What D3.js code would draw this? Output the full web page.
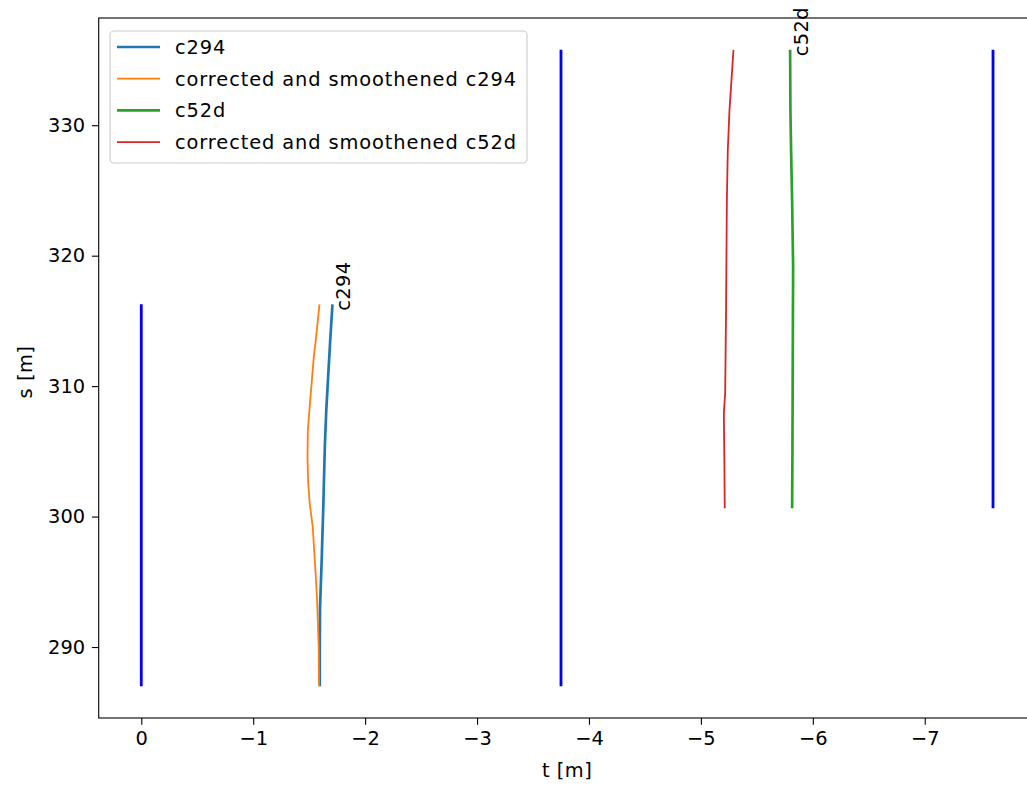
<!DOCTYPE html>
<html>
<head>
<meta charset="utf-8">
<script src="https://cdn.jsdelivr.net/npm/d3@7"></script>
<style>
  html, body { margin: 0; padding: 0; background: #fff; overflow: hidden; }
  svg { display: block; font-family: "DejaVu Sans", sans-serif; }
</style>
</head>
<body>
<svg id="chart" width="1027" height="787"></svg>
<script>
// ---- data ----
const c294S = [287.0, 290.0, 293.0, 296.7, 301.0, 305.4, 308.0, 310.5, 313.5, 316.27];
const c294T = [-1.595, -1.595, -1.597, -1.612, -1.627, -1.640, -1.652, -1.668, -1.688, -1.708];

const c294CorrS = [287.0, 290.0, 293.6, 296.0, 299.2, 301.0, 302.6, 304.5, 306.6, 309.0, 312.2, 314.0, 316.27];
const c294CorrT = [-1.588, -1.585, -1.571, -1.555, -1.532, -1.505, -1.491, -1.485, -1.488, -1.510, -1.541, -1.565, -1.592];

const c52dS = [300.64, 305.0, 310.2, 315.0, 319.1, 324.2, 328.0, 331.1, 335.78];
const c52dT = [-5.815, -5.818, -5.820, -5.822, -5.824, -5.815, -5.806, -5.800, -5.797];

const c52dCorrS = [300.64, 304.0, 307.9, 309.5, 316.0, 324.2, 328.0, 331.1, 335.78];
const c52dCorrT = [-5.213, -5.210, -5.205, -5.217, -5.225, -5.232, -5.240, -5.255, -5.291];

// vertical guide lines (blue)
const guideT = [0, -3.75, -7.61];
const guideS0 = [287.0, 287.0, 300.64];
const guideS1 = [316.27, 335.78, 335.78];

const xTicks = [0, -1, -2, -3, -4, -5, -6, -7];
const yTicks = [290, 300, 310, 320, 330];

const seriesNames = ["c294", "corrected and smoothened c294", "c52d", "corrected and smoothened c52d"];
const seriesColors = ["#1f77b4", "#ff7f0e", "#2ca02c", "#d62728"];
const seriesWidths = [2.7, 1.8, 2.7, 1.8];
const endLabels = ["c294", "c52d"];

// ---- layout ----
const mLeft = 98.7, mRight = 1035.6, mTop = 18, mBottom = 718;
const FS = 19.4;

const x = d3.scaleLinear().domain([0.3805, -7.9905]).range([mLeft, mRight]);
const y = d3.scaleLinear().domain([284.56, 338.22]).range([mBottom, mTop]);

const svg = d3.select("#chart");

const toPts = (S, T) => S.map((s, i) => [T[i], s]);
const line = d3.line().x(d => x(d[0])).y(d => y(d[1]));

// clip
svg.append("defs").append("clipPath").attr("id", "clip")
  .append("rect").attr("x", mLeft).attr("y", mTop).attr("width", mRight - mLeft).attr("height", mBottom - mTop);

const plot = svg.append("g").attr("clip-path", "url(#clip)");

// guide lines
guideT.forEach((t, i) => {
  plot.append("path")
    .attr("d", line([[t, guideS0[i]], [t, guideS1[i]]]))
    .attr("fill", "none").attr("stroke", "#0000ff").attr("stroke-width", 2.8);
});

const allSeries = [toPts(c294S, c294T), toPts(c294CorrS, c294CorrT), toPts(c52dS, c52dT), toPts(c52dCorrS, c52dCorrT)];
allSeries.forEach((pts, i) => {
  plot.append("path")
    .attr("d", line(pts))
    .attr("fill", "none")
    .attr("stroke", seriesColors[i])
    .attr("stroke-width", seriesWidths[i])
    .attr("stroke-linejoin", "round")
    .attr("stroke-linecap", "butt");
});

// end labels (rotated)
[allSeries[0], allSeries[2]].forEach((pts, i) => {
  const e = pts[pts.length - 1];
  const px = x(e[0]) + 17.5, py = y(e[1]) + 6.5;
  svg.append("text")
    .attr("transform", `translate(${px},${py}) rotate(-90)`)
    .attr("font-size", FS)
    .attr("letter-spacing", 0.4)
    .attr("fill", "#000")
    .text(endLabels[i]);
});

// axes
const xAxis = d3.axisBottom(x).tickValues(xTicks).tickSize(6.8).tickPadding(6.8)
  .tickFormat(d => d === 0 ? "0" : "\u2212" + Math.abs(d));
const gx = svg.append("g").attr("transform", `translate(0,${mBottom})`).call(xAxis);
const yAxis = d3.axisLeft(y).tickValues(yTicks).tickSize(6.8).tickPadding(6.8).tickFormat(d3.format("d"));
const gy = svg.append("g").attr("transform", `translate(${mLeft},0)`).call(yAxis);
[gx, gy].forEach(g => {
  g.select(".domain").remove();
  g.selectAll(".tick line").attr("stroke", "#000").attr("stroke-width", 1.1);
  g.selectAll(".tick text").attr("font-size", FS).attr("fill", "#000").attr("font-family", "DejaVu Sans");
});

// spines
svg.append("rect").attr("x", mLeft).attr("y", mTop).attr("width", mRight - mLeft).attr("height", mBottom - mTop)
  .attr("fill", "none").attr("stroke", "#000").attr("stroke-width", 1.1);

// axis labels
svg.append("text").attr("x", (mLeft + mRight) / 2).attr("y", 777)
  .attr("text-anchor", "middle").attr("font-size", FS).attr("letter-spacing", 0.5).attr("fill", "#000").text("t [m]");
svg.append("text")
  .attr("transform", `translate(32,${(mTop + mBottom) / 2 + 4}) rotate(-90)`)
  .attr("text-anchor", "middle").attr("font-size", FS).attr("letter-spacing", 0.5).attr("fill", "#000").text("s [m]");

// legend
const lg = svg.append("g");
lg.append("rect").attr("x", 110).attr("y", 31).attr("width", 417).attr("height", 132)
  .attr("rx", 4).attr("fill", "#fff").attr("fill-opacity", 0.8)
  .attr("stroke", "#cccccc").attr("stroke-width", 1.1);
seriesNames.forEach((n, i) => {
  const cy = 47 + i * 31.7;
  lg.append("line").attr("x1", 117).attr("x2", 160).attr("y1", cy).attr("y2", cy)
    .attr("stroke", seriesColors[i]).attr("stroke-width", seriesWidths[i]);
  lg.append("text").attr("x", 175).attr("y", cy + 7).attr("font-size", FS)
    .attr("letter-spacing", 0.9).attr("fill", "#000").text(n);
});
</script>
</body>
</html>
